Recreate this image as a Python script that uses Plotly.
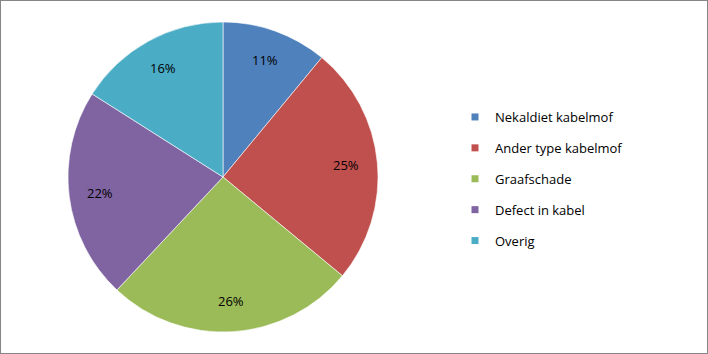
import math
import plotly.graph_objects as go

categories = ["Nekaldiet kabelmof", "Ander type kabelmof", "Graafschade", "Defect in kabel", "Overig"]
values = [11, 25, 26, 22, 16]
colors = ["#4F81BD", "#C0504D", "#9BBB59", "#8064A2", "#4BACC6"]

W, H = 708, 354
cx, cy, r = 223, 177, 155

fig = go.Figure()
fig.add_trace(go.Pie(
    labels=categories, values=values, sort=False, direction="clockwise", rotation=0,
    marker=dict(colors=colors, line=dict(color="white", width=0.6)),
    textinfo="none",
    showlegend=False, hoverinfo="label+percent",
    domain=dict(x=[(cx - r) / W, (cx + r) / W], y=[1 - (cy + r) / H, 1 - (cy - r) / H]),
))

# percentage labels placed at 0.8 of the radius, at each slice's mid angle
total = sum(values)
annotations = []
cum = 0
for v in values:
    mid = (cum + v / 2) / total * 2 * math.pi
    cum += v
    px = cx + 0.8 * r * math.sin(mid)
    py = cy - 0.8 * r * math.cos(mid)
    annotations.append(dict(x=px / W, y=1 - py / H, xref="paper", yref="paper",
                            text=f"{round(v / total * 100)}%", showarrow=False,
                            xanchor="center", yanchor="middle",
                            font=dict(family="Open Sans", size=13, color="#000000")))

for i, (c, col) in enumerate(zip(categories, colors)):
    fig.add_trace(go.Scatter(
        x=[None], y=[None], mode="markers", name=c, legendgroup=f"g{i}",
        marker=dict(symbol="square", size=7, color=col),
    ))

fig.update_layout(
    width=W, height=H, margin=dict(l=0, r=0, t=0, b=0),
    paper_bgcolor="white", plot_bgcolor="white",
    xaxis=dict(visible=False), yaxis=dict(visible=False),
    annotations=annotations,
    legend=dict(x=455 / W, y=1 - 102 / H, xanchor="left", yanchor="top",
                font=dict(family="Open Sans", size=13, color="#000000"),
                tracegroupgap=11, itemsizing="trace", itemwidth=30,
                bgcolor="rgba(0,0,0,0)"),
    shapes=[dict(type="rect", xref="paper", yref="paper", x0=0, y0=0, x1=1, y1=1,
                 line=dict(color="#868686", width=2), fillcolor="rgba(0,0,0,0)")],
)
fig.write_html("out.html")
